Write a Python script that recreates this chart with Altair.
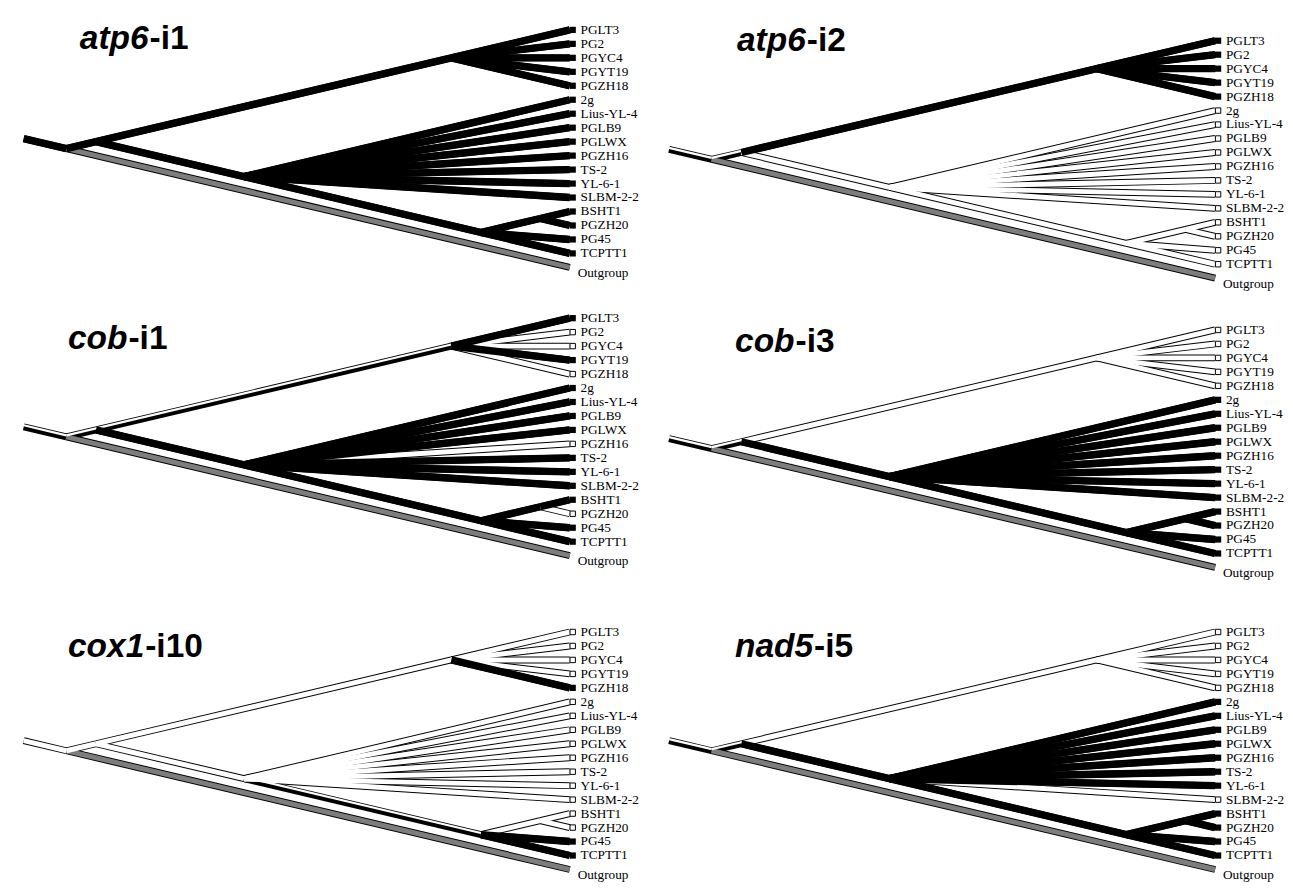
import altair as alt
import pandas as pd

# ---------------- data ----------------
TIPS = ["PGLT3", "PG2", "PGYC4", "PGYT19", "PGZH18", "2g", "Lius-YL-4", "PGLB9",
        "PGLWX", "PGZH16", "TS-2", "YL-6-1", "SLBM-2-2", "BSHT1", "PGZH20", "PG45",
        "TCPTT1", "Outgroup"]

# topology (internal node -> children)
NODES = {
    "root": ["ingroup", "Outgroup"],
    "ingroup": ["cladeA", "cladeK"],
    "cladeA": ["PGLT3", "PG2", "PGYC4", "PGYT19", "PGZH18"],
    "cladeK": ["2g", "Lius-YL-4", "PGLB9", "PGLWX", "PGZH16", "TS-2", "YL-6-1",
               "SLBM-2-2", "cladeC"],
    "cladeC": ["cladeS", "PG45", "TCPTT1"],
    "cladeS": ["BSHT1", "PGZH20"],
}

# branches (named by their child node), in drawing order
BRANCHES = ["root", "ingroup", "Outgroup", "cladeA", "cladeK",
            "PGLT3", "PG2", "PGYC4", "PGYT19", "PGZH18",
            "2g", "Lius-YL-4", "PGLB9", "PGLWX", "PGZH16", "TS-2", "YL-6-1", "SLBM-2-2",
            "cladeC", "cladeS", "BSHT1", "PGZH20", "PG45", "TCPTT1"]

# panel titles
GENES = ["atp6", "atp6", "cob", "cob", "cox1", "nad5"]
INTRONS = ["-i1", "-i2", "-i1", "-i3", "-i10", "-i5"]

# character state of each branch: b = present (black), w = absent (white),
# s = ambiguous (half/half), g = outgroup
STATES = [
    "bbgbb" "bbbbb" "bbbbbbbb" "bbbbbb",   # atp6-i1
    "ssgbw" "bbbbb" "wwwwwwww" "wwwwww",   # atp6-i2
    "ssgsb" "bwwbw" "bbbbwbbb" "bbbwbb",   # cob-i1
    "ssgwb" "wwwww" "bbbbbbbb" "bbbbbb",   # cob-i3
    "wwgww" "wwwwb" "wwwwwwww" "swwwbb",   # cox1-i10
    "ssgwb" "wwwww" "bbbbbbbw" "bbbbbb",   # nad5-i5
]

STEM = 0.72  # root stem length (tree units)

# ---------------- layout constants ----------------
W = 628
SP = 14.2          # px per tip
UX = 60.2          # px per tree unit (slanted cladogram)
TIP_PX = 557
X_MIN = -TIP_PX / UX
X_MAX = (W - TIP_PX) / UX
HEIGHTS = [290, 318, 258]
Y0 = [12, 23, 13, 25, 7, 7]             # first tip offset inside each panel
TITLE_POS = [(59, 31), (71, 33), (47, 44), (69, 47), (47, 32), (69, 32)]
TITLE_SIZE = 34
LABEL_SIZE = 13.5
BOLD_W = {"a": 556, "t": 333, "p": 611, "6": 556, "c": 556, "o": 611, "b": 611,
          "x": 556, "1": 556, "n": 611, "d": 611, "5": 556}

# ---------------- geometry ----------------
parent = {c: p for p, cs in NODES.items() for c in cs}


def tip_range(n):
    if n in TIPS:
        i = TIPS.index(n)
        return i, i
    rs = [tip_range(c) for c in NODES[n]]
    return min(r[0] for r in rs), max(r[1] for r in rs)


pos = {}
for n in list(NODES) + TIPS:
    lo, hi = tip_range(n)
    pos[n] = (-(hi - lo) / 2.0, (lo + hi) / 2.0)


def edges_df(states):
    rows = []
    for k, child in enumerate(BRANCHES):
        c = pos[child]
        if child == "root":
            p = (c[0] - STEM, c[1] - STEM)
        else:
            p = pos[parent[child]]
        s = states[k]
        rows.append(dict(b=k, o=0, x=p[0], y=p[1], s=s))
        rows.append(dict(b=k, o=1, x=c[0], y=c[1], s=s))
    return pd.DataFrame(rows)


def tips_df(states):
    rows = []
    for i, t in enumerate(TIPS):
        s = states[BRANCHES.index(t)]
        rows.append(dict(name=t, x=pos[t][0], y=pos[t][1], s=s))
    return pd.DataFrame(rows)


def panel(i, H):
    states = STATES[i]
    y0 = Y0[i]
    xs = alt.Scale(domain=[X_MIN, X_MAX], nice=False, zero=False)
    ys = alt.Scale(domain=[-y0 / SP, (H - y0) / SP], reverse=True, nice=False, zero=False)
    X = alt.X("x:Q", scale=xs, axis=None)
    Y = alt.Y("y:Q", scale=ys, axis=None)

    base = alt.Chart(edges_df(states)).encode(x=X, y=Y, detail="b:N", order="o:O")
    outline = base.mark_line(color="black", strokeWidth=7)
    white = base.transform_filter(alt.datum.s == "w").mark_line(color="white", strokeWidth=5)
    gray = base.transform_filter(alt.datum.s == "g").mark_line(color="#7d7d7d", strokeWidth=5)
    half = base.transform_filter(alt.datum.s == "s").mark_line(
        color="white", strokeWidth=2.2, yOffset=-1.6)
    black = base.transform_filter(alt.datum.s == "b").mark_line(color="black", strokeWidth=7.5)

    tb = alt.Chart(tips_df(states)).encode(x=X, y=Y)
    sq_b = tb.transform_filter(alt.datum.s == "b").mark_square(
        size=40, color="black", opacity=1, xOffset=3)
    sq_w = tb.transform_filter(alt.datum.s == "w").mark_square(
        size=30, fill="white", stroke="black", strokeWidth=1, opacity=1, xOffset=3)
    lab = tb.transform_filter(alt.datum.name != "Outgroup").mark_text(
        align="left", baseline="middle", dx=11, font="Liberation Serif",
        fontSize=LABEL_SIZE, color="black").encode(text="name:N")
    lab_o = tb.transform_filter(alt.datum.name == "Outgroup").mark_text(
        align="left", baseline="middle", dx=8, dy=6, font="Liberation Serif",
        fontSize=LABEL_SIZE, color="black").encode(text="name:N")

    tx, ty = TITLE_POS[i]
    gene = GENES[i]
    gw = sum(BOLD_W[ch] for ch in gene) * TITLE_SIZE / 1000.0
    t1 = alt.Chart(pd.DataFrame({"t": [gene]})).mark_text(
        align="left", baseline="alphabetic", font="Liberation Sans", fontSize=TITLE_SIZE,
        fontWeight="bold", fontStyle="italic", color="black").encode(
        x=alt.value(tx), y=alt.value(ty), text="t:N")
    t2 = alt.Chart(pd.DataFrame({"t": [INTRONS[i]]})).mark_text(
        align="left", baseline="alphabetic", font="Liberation Sans", fontSize=TITLE_SIZE,
        fontWeight="bold", color="black").encode(
        x=alt.value(tx + gw + 1), y=alt.value(ty), text="t:N")

    return alt.layer(outline, gray, white, half, black, sq_b, sq_w, lab, lab_o, t1, t2
                     ).properties(width=W, height=H)


rows = [alt.hconcat(panel(2 * r, HEIGHTS[r]), panel(2 * r + 1, HEIGHTS[r]), spacing=15)
        for r in range(3)]

chart = alt.vconcat(*rows, spacing=0, padding=0).configure_view(stroke=None)

chart.save("out.html", embed_options={"renderer": "svg", "actions": False})
